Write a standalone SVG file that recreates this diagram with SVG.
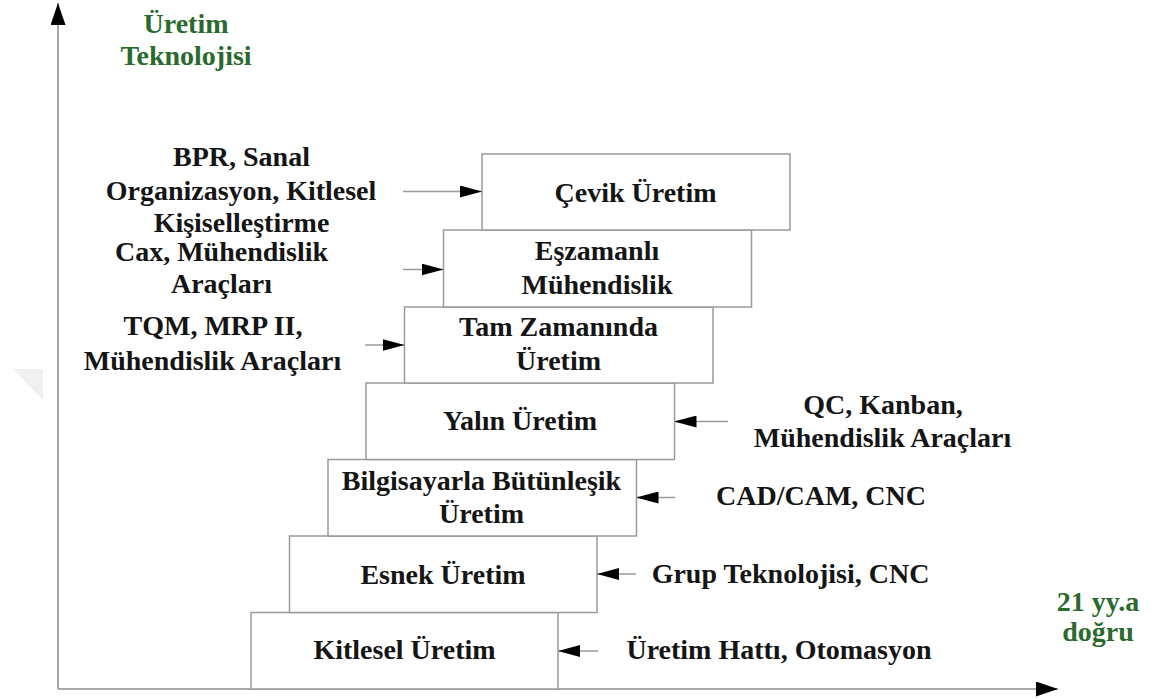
<svg xmlns="http://www.w3.org/2000/svg" width="1154" height="699" viewBox="0 0 1154 699">
  <defs>
    <marker id="head" viewBox="0 0 22 12" refX="22" refY="6" markerWidth="22" markerHeight="12" markerUnits="userSpaceOnUse" orient="auto">
      <path d="M0,0 L22,6 L0,12 Z" fill="#000"/>
    </marker>
    <marker id="axisHead" viewBox="0 0 22 15" refX="22" refY="7.5" markerWidth="22" markerHeight="15" markerUnits="userSpaceOnUse" orient="auto">
      <path d="M0,0 L22,7.5 L0,15 Z" fill="#000"/>
    </marker>
  </defs>
  <style>
    .box { fill: #fff; stroke: #9a9a9a; stroke-width: 1.5; }
    .axis { stroke: #a8a8a8; stroke-width: 2; fill: none; }
    .link { stroke: #9a9a9a; stroke-width: 1.5; fill: none; marker-end: url(#head); }
    text { font-family: "Liberation Serif", "Times New Roman", serif; font-weight: bold; font-size: 28px; fill: #151515; text-anchor: middle; }
    .green { fill: #2a6a2e; }
  </style>

  <rect width="1154" height="699" fill="#fff"/>
  <polygon points="13,369 43,369 43,400" fill="#f0f0f0"/>

  <!-- axes -->
  <g id="axes">
    <line class="axis" x1="58" y1="689" x2="58" y2="3" marker-end="url(#axisHead)"/>
    <line class="axis" x1="58" y1="689" x2="1058" y2="689" marker-end="url(#axisHead)"/>
    <text class="green" x="186" y="33">Üretim</text>
    <text class="green" x="186" y="65">Teknolojisi</text>
    <text class="green" x="1098" y="611">21 yy.a</text>
    <text class="green" x="1098" y="641">doğru</text>
  </g>

  <!-- stair of production paradigms -->
  <g id="kitlesel">
    <rect class="box" x="251" y="612.5" width="307" height="76.5"/>
    <text x="404.5" y="658.5">Kitlesel Üretim</text>
  </g>
  <g id="esnek">
    <rect class="box" x="289.5" y="536" width="307.5" height="76.5"/>
    <text x="443" y="583.5">Esnek Üretim</text>
  </g>
  <g id="bilgisayarla">
    <rect class="box" x="328" y="459.5" width="308.5" height="76.5"/>
    <text x="481.5" y="490">Bilgisayarla Bütünleşik</text>
    <text x="481.5" y="523">Üretim</text>
  </g>
  <g id="yalin">
    <rect class="box" x="366" y="383" width="308.5" height="76.5"/>
    <text x="520" y="429.5">Yalın Üretim</text>
  </g>
  <g id="tam-zamaninda">
    <rect class="box" x="404.5" y="307" width="308.5" height="76"/>
    <text x="558.5" y="336">Tam Zamanında</text>
    <text x="558.5" y="370">Üretim</text>
  </g>
  <g id="eszamanli">
    <rect class="box" x="443.5" y="230" width="308" height="77"/>
    <text x="597" y="260">Eşzamanlı</text>
    <text x="597" y="294">Mühendislik</text>
  </g>
  <g id="cevik">
    <rect class="box" x="482" y="154" width="308" height="76"/>
    <text x="635.5" y="201.5">Çevik Üretim</text>
  </g>

  <!-- enabling technologies -->
  <g id="enablers">
    <text x="241.5" y="166">BPR, Sanal</text>
    <text x="241" y="200">Organizasyon, Kitlesel</text>
    <text x="241.5" y="232">Kişiselleştirme</text>
    <text x="221.5" y="261">Cax, Mühendislik</text>
    <text x="221.5" y="293">Araçları</text>
    <text x="213" y="335">TQM, MRP II,</text>
    <text x="212.5" y="370">Mühendislik Araçları</text>
    <text x="883" y="413.5">QC, Kanban,</text>
    <text x="882.5" y="447">Mühendislik Araçları</text>
    <text x="821" y="505">CAD/CAM, CNC</text>
    <text x="790.5" y="582.5">Grup Teknolojisi, CNC</text>
    <text x="779" y="659">Üretim Hattı, Otomasyon</text>
  </g>

  <!-- connectors -->
  <g id="connectors">
    <line class="link" x1="403" y1="191.5" x2="482" y2="191.5"/>
    <line class="link" x1="403" y1="269.5" x2="443.5" y2="269.5"/>
    <line class="link" x1="365" y1="345" x2="404.5" y2="345"/>
    <line class="link" x1="728" y1="421.5" x2="674.5" y2="421.5"/>
    <line class="link" x1="675" y1="497.5" x2="636.5" y2="497.5"/>
    <line class="link" x1="636" y1="574" x2="597" y2="574"/>
    <line class="link" x1="598" y1="651" x2="558" y2="651"/>
  </g>
</svg>
